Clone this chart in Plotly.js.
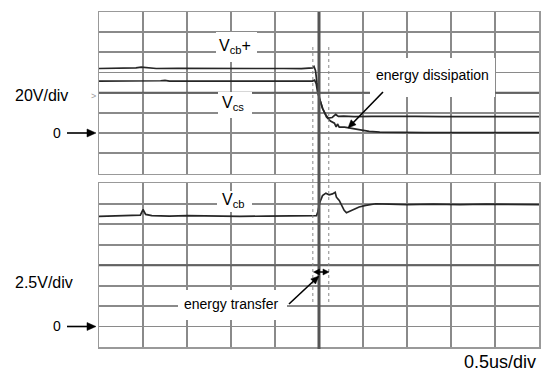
<!DOCTYPE html>
<html>
<head>
<meta charset="utf-8">
<script src="https://cdn.plot.ly/plotly-3.0.1.min.js"></script>
<style>html,body{margin:0;padding:0;background:#fff}#chart{width:545px;height:371px}</style>
</head>
<body>
<div id="chart"></div>
<script>
// ---- data (time in us, voltage in V) ----
const tVcbPlus = [0, 0.2, 0.35, 0.42, 0.48, 0.52, 0.58, 0.65, 0.9, 1.2, 1.5, 1.8, 2.1, 2.3, 2.40, 2.426, 2.443, 2.46, 2.477, 2.506, 2.54, 2.58, 2.606, 2.65, 2.69, 2.72, 2.78, 2.9, 3.1, 3.3, 3.6, 3.9, 4.2, 4.5, 4.8, 5.0];
const vVcbPlus = [64.0, 64.1, 64.0, 64.6, 65.3, 65.0, 64.4, 64.0, 64.1, 63.9, 64.0, 64.1, 64.0, 63.9, 64.0, 64.6, 66.0, 62.0, 50.0, 34.3, 24.6, 17.7, 15.0, 15.5, 18.5, 16.5, 16.8, 16.4, 16.6, 16.3, 16.5, 16.4, 16.3, 16.5, 16.4, 16.4];

const tVcs = [0, 0.3, 0.6, 0.64, 0.7, 0.75, 0.8, 1.2, 1.6, 2.0, 2.2, 2.426, 2.45, 2.468, 2.485, 2.506, 2.54, 2.585, 2.63, 2.675, 2.695, 2.71, 2.73, 2.79, 2.85, 2.96, 3.07, 3.19, 3.4, 3.7, 4.0, 4.3, 4.6, 5.0];
const vVcs = [51.6, 51.5, 51.6, 52.1, 51.9, 52.2, 51.6, 51.6, 51.5, 51.6, 51.6, 51.6, 52.5, 49.0, 40.0, 33.0, 24.6, 16.0, 12.0, 9.8, 6.3, 9.0, 6.0, 6.0, 5.0, 3.2, 1.8, 1.0, 0.6, 0.4, 0.5, 0.4, 0.5, 0.4];

const tVcb = [0, 0.2, 0.4, 0.47, 0.5, 0.53, 0.6, 0.8, 1.0, 1.3, 1.6, 1.9, 2.2, 2.4, 2.472, 2.486, 2.51, 2.54, 2.578, 2.615, 2.653, 2.684, 2.698, 2.73, 2.76, 2.786, 2.812, 2.831, 2.861, 2.899, 2.956, 3.032, 3.145, 3.3, 3.5, 3.8, 4.1, 4.4, 4.7, 5.0];
const vVcb = [13.45, 13.5, 13.55, 13.6, 14.3, 13.7, 13.55, 13.5, 13.55, 13.5, 13.45, 13.5, 13.55, 13.5, 13.55, 14.0, 15.2, 16.0, 16.3, 16.1, 16.2, 16.4, 15.8, 15.4, 14.8, 14.2, 13.9, 14.0, 14.2, 14.4, 14.6, 14.8, 15.0, 14.95, 14.9, 14.95, 14.9, 14.95, 14.9, 14.9];

const labelTop = "20V/div";
const labelBottom = "2.5V/div";
const labelTime = "0.5us/div";
const labelZero = "0";
const noteDissipation = "energy dissipation";
const noteTransfer = "energy transfer";

// ---- layout helpers (pixel -> paper) ----
const W = 545, H = 371, ML = 99, MR = 6, MT = 12, MB = 24;
const PW = W - ML - MR, PH = H - MT - MB;
const PX = p => (p - ML) / PW;
const PY = p => (H - MB - p) / PH;

const traceStyle = {color: '#262626', width: 1.7};
const data = [
  {x: tVcbPlus, y: vVcbPlus, xaxis: 'x', yaxis: 'y', mode: 'lines', line: traceStyle, hoverinfo: 'skip'},
  {x: tVcs, y: vVcs, xaxis: 'x', yaxis: 'y', mode: 'lines', line: traceStyle, hoverinfo: 'skip'},
  {x: tVcb, y: vVcb, xaxis: 'x2', yaxis: 'y2', mode: 'lines', line: traceStyle, hoverinfo: 'skip'}
];

const gridC = '#8a8a8a';
const xax = {range: [0, 5], dtick: 0.5, tick0: 0, showticklabels: false, ticks: '', showgrid: true, gridcolor: gridC, gridwidth: 1.8, zeroline: false, showline: true, mirror: true, linecolor: '#999', linewidth: 1.5, fixedrange: true};
const fnt = {family: 'Liberation Sans, Arial, sans-serif', size: 14, color: '#000'};

function box(x0, y0, x1, y1) {
  return {type: 'rect', xref: 'paper', yref: 'paper', x0: PX(x0), x1: PX(x1), y0: PY(y1), y1: PY(y0), fillcolor: '#fff', line: {width: 0}, layer: 'above'};
}
function txt(text, px, py, size, xanchor) {
  return {text: text, xref: 'paper', yref: 'paper', x: PX(px), y: PY(py), showarrow: false, xanchor: xanchor || 'center', yanchor: 'middle', font: Object.assign({}, fnt, {size: size || 14})};
}
// arrow drawn as shapes (line + filled head), given pixel coords head (hx,hy) and tail (tx,ty)
function head(hx, hy, fx, fy, len, wid) {
  const dx = hx - fx, dy = hy - fy, d = Math.hypot(dx, dy), ux = dx / d, uy = dy / d;
  const bx = hx - ux * len, by = hy - uy * len, nx = -uy * wid / 2, ny = ux * wid / 2;
  const P = (x, y) => PX(x).toFixed(5) + ',' + PY(y).toFixed(5);
  return {type: 'path', xref: 'paper', yref: 'paper', path: 'M' + P(hx, hy) + ' L' + P(bx + nx, by + ny) + ' L' + P(bx - nx, by - ny) + ' Z', fillcolor: '#000', line: {color: '#000', width: 0.5}, layer: 'above'};
}
function arrowShapes(hx, hy, tx, ty, len, wid) {
  len = len || 8; wid = wid || 7;
  const d = Math.hypot(hx - tx, hy - ty);
  const bx = hx - (hx - tx) / d * (len - 1), by = hy - (hy - ty) / d * (len - 1);
  return [
    {type: 'line', xref: 'paper', yref: 'paper', x0: PX(tx), y0: PY(ty), x1: PX(bx), y1: PY(by), line: {color: '#000', width: 1.6}, layer: 'above'},
    head(hx, hy, tx, ty, len, wid)
  ];
}

const shapes = [
  // darker centre lines
  {type: 'line', xref: 'paper', yref: 'y', x0: 0, x1: 1, y0: 40, y1: 40, line: {color: '#626262', width: 2}, layer: 'above'},
  {type: 'line', xref: 'paper', yref: 'y2', x0: 0, x1: 1, y0: 7.5, y1: 7.5, line: {color: '#626262', width: 2}, layer: 'above'},
  // white boxes behind labels
  box(216, 32, 257, 62),
  box(218, 92, 252, 118),
  box(370, 58, 495, 97),
  box(217, 191, 252, 212),
  box(178, 290, 287, 320),
  // trigger line
  {type: 'line', xref: 'x', yref: 'paper', x0: 2.5, x1: 2.5, y0: PY(349), y1: 1, line: {color: '#555', width: 3}, layer: 'above'},
  // dotted markers
  {type: 'line', xref: 'x', yref: 'paper', x0: 2.43, x1: 2.43, y0: PY(302), y1: PY(45), line: {color: '#888', width: 1, dash: 'dot'}, layer: 'above'},
  {type: 'line', xref: 'x', yref: 'paper', x0: 2.611, x1: 2.611, y0: PY(302), y1: PY(45), line: {color: '#888', width: 1, dash: 'dot'}, layer: 'above'}
].concat(
  arrowShapes(348, 128, 383, 92),
  arrowShapes(319, 276, 289, 304),
  arrowShapes(96, 133, 67, 133, 9, 8),
  arrowShapes(96, 326.5, 67, 326.5, 9, 8),
  [head(313.5, 272, 329, 272, 6, 6), head(329, 272, 313.5, 272, 6, 6),
   {type: 'line', xref: 'paper', yref: 'paper', x0: PX(316), x1: PX(327), y0: PY(272), y1: PY(272), line: {color: '#000', width: 1.5}, layer: 'above'}]
);

const layout = {
  width: W, height: H,
  margin: {l: ML, r: MR, t: MT, b: MB, pad: 0},
  paper_bgcolor: '#fff', plot_bgcolor: '#fff',
  showlegend: false,
  xaxis: Object.assign({}, xax, {anchor: 'y'}),
  xaxis2: Object.assign({}, xax, {anchor: 'y2'}),
  yaxis: {domain: [PY(173.5), 1], range: [-40, 120], dtick: 20, tick0: 0, showticklabels: false, ticks: '', showgrid: true, gridcolor: gridC, gridwidth: 1.8, zeroline: false, showline: true, mirror: true, linecolor: '#999', linewidth: 1.5, fixedrange: true},
  yaxis2: {domain: [0, PY(183.3)], range: [-2.5, 17.5], dtick: 2.5, tick0: 0, showticklabels: false, ticks: '', showgrid: true, gridcolor: gridC, gridwidth: 1.8, zeroline: false, showline: true, mirror: true, linecolor: '#999', linewidth: 1.5, fixedrange: true},
  shapes: shapes,
  annotations: [
    txt('V<sub>cb</sub>+', 235, 46, 16),
    txt('V<sub>cs</sub>', 233, 104, 16),
    txt(noteDissipation, 432, 75, 14),
    txt('V<sub>cb</sub>', 233, 200, 16),
    txt(noteTransfer, 231, 304, 14),
    txt(labelTop, 13, 95, 16, 'left'),
    txt(labelBottom, 13, 282, 16, 'left'),
    txt(labelTime, 500, 362, 18, 'center'),
    txt(labelZero, 63, 133, 14, 'right'),
    txt(labelZero, 63, 326, 14, 'right'),
    {text: '>', xref: 'paper', yref: 'paper', x: PX(98), y: PY(89), xanchor: 'right', showarrow: false, font: {family: 'Liberation Sans, Arial', size: 9, color: '#999'}}
  ]
};

Plotly.newPlot('chart', data, layout, {staticPlot: true, displayModeBar: false});
</script>
</body>
</html>
